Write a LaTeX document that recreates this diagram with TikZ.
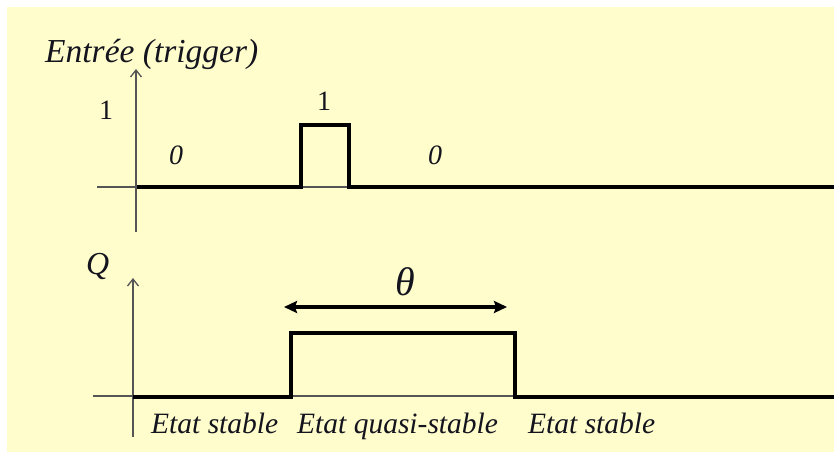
\documentclass[tikz,border=0pt]{standalone}
\usepackage{fontspec}
\setmainfont{Liberation Serif}
\usetikzlibrary{arrows.meta}
\definecolor{bgcream}{RGB}{255,253,204}
\definecolor{axisgray}{RGB}{85,85,85}
\definecolor{txt}{RGB}{20,20,30}
\begin{document}
\begin{tikzpicture}[x=1bp,y=-1bp,
  axisline/.style={draw=axisgray,line width=1.3bp},
  axisarrow/.style={axisline,-{Straight Barb[length=7bp,width=11bp,line width=1.3bp]}},
  signal/.style={draw=black,line width=3.5bp,line join=miter},
  thetaarrow/.style={draw=black,line width=3.2bp,{Stealth[length=13bp,width=12bp,inset=2bp]}-{Stealth[length=13bp,width=12bp,inset=2bp]}},
  lbl/.style={inner sep=0pt,anchor=base west,text=txt,font=\fontsize{29.5bp}{34bp}\selectfont\itshape},
  biglbl/.style={inner sep=0pt,anchor=base west,text=txt,font=\fontsize{33.5bp}{38bp}\selectfont\itshape},
  qstyle/.style={inner sep=0pt,anchor=base west,text=txt,font=\fontsize{32bp}{38bp}\selectfont\itshape},
  num/.style={inner sep=0pt,anchor=base,text=txt,font=\fontsize{28bp}{32bp}\selectfont},
  inum/.style={inner sep=0pt,anchor=base,text=txt,font=\fontsize{28bp}{32bp}\selectfont\itshape},
  thetalbl/.style={inner sep=0pt,anchor=base,text=txt,font=\fontsize{40bp}{46bp}\selectfont\itshape}
]
\useasboundingbox (0,0) rectangle (834,452);
\fill[white] (0,0) rectangle (834,452);
\fill[bgcream] (7,7) rectangle (834,452);

% ---------- top panel: trigger ----------
\node[biglbl] (tin) at (45,63) {Entrée (trigger)};
\coordinate (tyb) at (136,232);
\coordinate (tyt) at (136,69);
\coordinate (txl) at (97,187);
\coordinate (txr) at (834,187);
\draw[axisline] (txl) -- (txr);
\draw[axisarrow] (tyb) -- (tyt);
\coordinate (t0) at (137,187);
\coordinate (t1) at (301,187);
\coordinate (t2) at (301,125);
\coordinate (t3) at (349,125);
\coordinate (t4) at (349,187);
\coordinate (t5) at (834,187);
\draw[signal] (t0) -- (t1) -- (t2) -- (t3) -- (t4) -- (t5);
\node[num] (tone) at (106,120) {1};
\node[num] (pone) at (324,111) {1};
\node[inum] (zero1) at (176,165) {0};
\node[inum] (zero2) at (435,165) {0};

% ---------- bottom panel: Q ----------
\node[qstyle] (qlbl) at (86,275) {Q};
\coordinate (qyb) at (133,437);
\coordinate (qyt) at (133,278);
\coordinate (qxl) at (93,396);
\coordinate (qxr) at (834,396);
\draw[axisline] (qxl) -- (qxr);
\draw[axisarrow] (qyb) -- (qyt);
\coordinate (q0) at (133,397);
\coordinate (q1) at (291,397);
\coordinate (q2) at (291,333);
\coordinate (q3) at (515,333);
\coordinate (q4) at (515,397);
\coordinate (q5) at (834,397);
\draw[signal] (q0) -- (q1) -- (q2) -- (q3) -- (q4) -- (q5);

\coordinate (al) at (284,307);
\coordinate (ar) at (507,307);
\draw[thetaarrow] (al) -- (ar);
\node[thetalbl] (theta) at (405,296) {θ};

\node[lbl] (s1) at (151,433) {Etat stable};
\node[lbl] (s2) at (297,433) {Etat quasi-stable};
\node[lbl] (s3) at (528,433) {Etat stable};
\end{tikzpicture}
\end{document}
